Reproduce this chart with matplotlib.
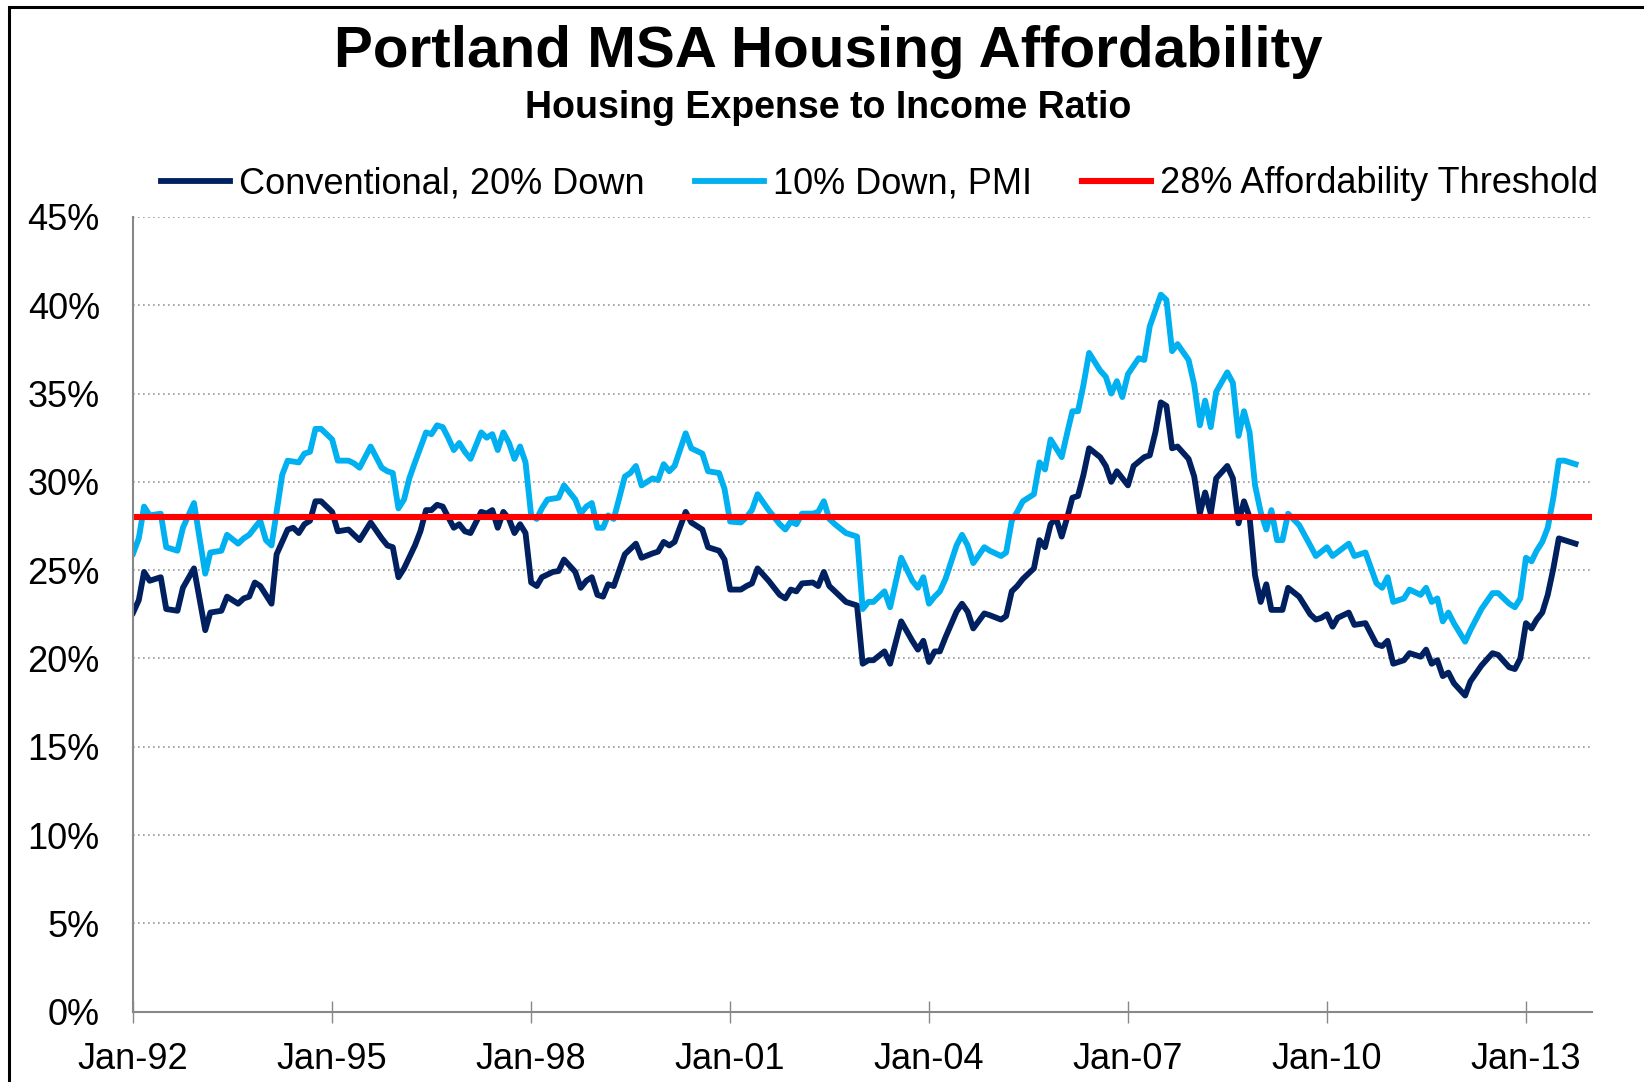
import numpy as np
import matplotlib
matplotlib.use("Agg")
import matplotlib.pyplot as plt
import matplotlib.dates as mdates
from matplotlib.patches import Rectangle

# months counted from Jan-1992, values in percent
conv_months = [0, 1, 2, 3, 5, 6, 8, 9, 11, 13, 14, 16, 17, 19, 20, 21, 22, 23, 25, 26,
               28, 29, 30, 31, 32, 33, 34, 36, 37, 39, 40, 41, 43, 45, 46, 47, 48, 49, 51, 52,
               53, 54, 55, 56, 57, 58, 59, 60, 61, 63, 64, 65, 66, 67, 68, 69, 70, 71, 72, 73,
               74, 76, 77, 78, 80, 81, 82, 83, 84, 85, 86, 87, 89, 91, 92, 94, 95, 96, 97, 98,
               100, 101, 103, 104, 106, 107, 108, 110, 111, 112, 113, 115, 117, 118, 119, 120, 121, 123, 124, 125,
               126, 127, 129, 130, 131, 132, 133, 134, 136, 137, 139, 141, 142, 143, 144, 145, 146, 147, 149, 150,
               151, 152, 154, 155, 157, 158, 159, 160, 161, 163, 164, 165, 166, 167, 168, 169, 170, 171, 172, 173,
               175, 176, 177, 178, 180, 181, 183, 184, 185, 186, 187, 188, 189, 191, 192, 193, 194, 195, 196, 198,
               199, 200, 201, 202, 203, 204, 205, 206, 208, 209, 211, 213, 214, 215, 216, 217, 218, 220, 221, 223,
               225, 226, 227, 228, 230, 231, 233, 234, 235, 236, 237, 238, 239, 241, 242, 244, 246, 247, 249, 250,
               251, 252, 253, 254, 255, 256, 257, 258, 259, 261]
conv_values = [22.6, 23.3, 24.9, 24.4, 24.6, 22.8, 22.7, 24.0, 25.1, 21.6, 22.6, 22.7, 23.5, 23.1, 23.4, 23.5, 24.3, 24.1, 23.1, 25.9,
               27.3, 27.4, 27.1, 27.6, 27.8, 28.9, 28.9, 28.3, 27.2, 27.3, 27.0, 26.7, 27.7, 26.8, 26.4, 26.3, 24.6, 25.1, 26.4, 27.2,
               28.4, 28.4, 28.7, 28.6, 28.0, 27.4, 27.6, 27.2, 27.1, 28.3, 28.2, 28.4, 27.4, 28.3, 27.9, 27.1, 27.6, 27.1, 24.3, 24.1,
               24.6, 24.9, 24.95, 25.6, 24.9, 24.0, 24.4, 24.6, 23.6, 23.5, 24.2, 24.1, 25.9, 26.5, 25.7, 25.95, 26.05, 26.6, 26.4, 26.6,
               28.3, 27.7, 27.3, 26.3, 26.1, 25.6, 23.9, 23.9, 24.1, 24.25, 25.1, 24.4, 23.6, 23.4, 23.9, 23.8, 24.25, 24.3, 24.1, 24.9,
               24.1, 23.8, 23.2, 23.1, 23.0, 19.7, 19.9, 19.9, 20.4, 19.7, 22.1, 21.0, 20.5, 21.0, 19.8, 20.4, 20.4, 21.2, 22.65, 23.1,
               22.65, 21.7, 22.55, 22.45, 22.2, 22.4, 23.8, 24.1, 24.5, 25.1, 26.7, 26.3, 27.6, 27.95, 26.9, 28.0, 29.1, 29.2, 30.4, 31.9,
               31.4, 30.9, 30.0, 30.6, 29.8, 30.9, 31.4, 31.5, 32.8, 34.5, 34.3, 31.9, 32.0, 31.3, 30.3, 28.2, 29.4, 28.2, 30.2, 30.9,
               30.2, 27.65, 28.9, 28.0, 24.7, 23.2, 24.2, 22.75, 22.75, 24.0, 23.5, 22.5, 22.2, 22.3, 22.5, 21.8, 22.3, 22.6, 21.9, 22.0,
               20.8, 20.7, 21.0, 19.7, 19.9, 20.3, 20.1, 20.5, 19.7, 19.9, 19.0, 19.2, 18.6, 17.9, 18.7, 19.6, 20.3, 20.2, 19.5, 19.4,
               20.0, 22.0, 21.7, 22.2, 22.6, 23.6, 25.1, 26.8, 26.7, 26.5]

pmi_months = [0, 1, 2, 3, 5, 6, 8, 9, 11, 13, 14, 16, 17, 19, 20, 21, 23, 24, 25, 27,
              28, 30, 31, 32, 33, 34, 36, 37, 39, 40, 41, 43, 45, 46, 47, 48, 49, 50, 51, 53,
              54, 55, 56, 57, 58, 59, 60, 61, 63, 64, 65, 66, 67, 68, 69, 70, 71, 72, 73, 74,
              75, 77, 78, 80, 81, 82, 83, 84, 85, 86, 87, 89, 90, 91, 92, 94, 95, 96, 97, 98,
              100, 101, 103, 104, 106, 107, 108, 110, 111, 112, 113, 115, 117, 118, 119, 120, 121, 123, 124, 125,
              126, 127, 129, 130, 131, 132, 133, 134, 136, 137, 139, 141, 142, 143, 144, 145, 146, 147, 149, 150,
              151, 152, 154, 155, 157, 158, 159, 160, 161, 163, 164, 165, 166, 168, 169, 170, 171, 172, 173, 175,
              176, 177, 178, 179, 180, 182, 183, 184, 186, 187, 188, 189, 191, 192, 193, 194, 195, 196, 198, 199,
              200, 201, 202, 203, 204, 205, 206, 207, 208, 209, 211, 213, 214, 216, 217, 220, 221, 223, 225, 226,
              227, 228, 230, 231, 233, 234, 235, 236, 237, 238, 239, 241, 242, 244, 246, 247, 249, 250, 251, 252,
              253, 254, 255, 256, 257, 258, 259, 261]
pmi_values = [25.95, 26.8, 28.6, 28.1, 28.2, 26.3, 26.1, 27.4, 28.8, 24.8, 26.0, 26.1, 27.0, 26.5, 26.8, 27.0, 27.8, 26.7, 26.4, 30.4,
              31.2, 31.1, 31.6, 31.7, 33.0, 33.0, 32.4, 31.2, 31.2, 31.05, 30.8, 32.0, 30.8, 30.6, 30.5, 28.5, 29.0, 30.2, 31.1, 32.8,
              32.7, 33.2, 33.1, 32.5, 31.8, 32.2, 31.7, 31.3, 32.8, 32.5, 32.7, 31.8, 32.8, 32.2, 31.3, 32.0, 31.1, 28.1, 27.9, 28.5,
              29.0, 29.1, 29.8, 29.0, 28.2, 28.6, 28.8, 27.4, 27.4, 28.1, 27.9, 30.3, 30.5, 30.9, 29.8, 30.2, 30.1, 31.0, 30.6, 30.9,
              32.75, 31.9, 31.6, 30.6, 30.5, 29.6, 27.75, 27.7, 28.0, 28.4, 29.3, 28.4, 27.6, 27.3, 27.75, 27.6, 28.2, 28.2, 28.3, 28.9,
              27.9, 27.6, 27.1, 27.0, 26.9, 22.8, 23.2, 23.2, 23.8, 22.9, 25.7, 24.4, 24.0, 24.6, 23.1, 23.5, 23.8, 24.5, 26.4, 27.0,
              26.4, 25.4, 26.3, 26.1, 25.8, 26.0, 27.8, 28.3, 28.9, 29.3, 31.1, 30.7, 32.4, 31.4, 32.8, 34.0, 34.0, 35.5, 37.3, 36.3,
              35.95, 35.0, 35.7, 34.8, 36.1, 37.0, 36.9, 38.8, 40.6, 40.3, 37.4, 37.8, 36.9, 35.5, 33.2, 34.6, 33.1, 35.1, 36.2, 35.6,
              32.6, 34.0, 32.8, 29.8, 28.3, 27.3, 28.4, 26.7, 26.7, 28.2, 27.55, 26.4, 25.8, 26.3, 25.8, 26.5, 25.8, 26.0, 24.25, 24.0,
              24.6, 23.2, 23.4, 23.9, 23.6, 24.0, 23.2, 23.4, 22.1, 22.6, 22.0, 20.95, 21.6, 22.8, 23.7, 23.7, 23.1, 22.9, 23.4, 25.7,
              25.5, 26.1, 26.6, 27.4, 29.1, 31.2, 31.2, 31.0]

threshold = 28.0
tick_years = [1992, 1995, 1998, 2001, 2004, 2007, 2010, 2013]
labels = ["Conventional, 20% Down", "10% Down, PMI", "28% Affordability Threshold"]

plt.rcParams["font.family"] = ["Liberation Sans", "DejaVu Sans"]

start = np.datetime64("1992-01", "M")
conv_dates = (start + np.array(conv_months)).astype("datetime64[D]")
pmi_dates = (start + np.array(pmi_months)).astype("datetime64[D]")

fig = plt.figure(figsize=(16.44, 10.82), dpi=100)
ax = fig.add_axes([0.081, 0.0650, 0.8875, 0.7345])

ax.plot(conv_dates, conv_values, color="#002060", lw=4.2, label=labels[0], solid_joinstyle="round")
ax.plot(pmi_dates, pmi_values, color="#00B0F0", lw=4.2, label=labels[1], solid_joinstyle="round")
ax.axhline(threshold, color="#FF0000", lw=4.4, label=labels[2])

ax.set_ylim(0, 45)
ax.set_yticks(np.arange(0, 46, 5))
ax.yaxis.set_major_formatter(plt.FuncFormatter(lambda v, p: f"{v:.0f}%"))
ax.set_xlim(np.datetime64("1992-01-01"), np.datetime64("2014-01-01"))
ax.set_xticks([np.datetime64(f"{y}-01-01") for y in tick_years])
ax.xaxis.set_major_formatter(mdates.DateFormatter("%b-%y"))

ax.grid(axis="y", color="#999999", linestyle=(0, (1, 2)), lw=1.2)
ax.set_axisbelow(True)
for s in ["top", "right"]:
    ax.spines[s].set_visible(False)
for s in ["left", "bottom"]:
    ax.spines[s].set_color("#888888")
    ax.spines[s].set_linewidth(1.5)
ax.tick_params(axis="y", length=0, pad=24, labelsize=26)
ax.tick_params(axis="x", direction="inout", length=16, width=1, color="#888888", pad=14, labelsize=26)

fig.text(0.504, 0.952, "Portland MSA Housing Affordability", ha="center", va="center",
         fontsize=42, fontweight="bold")
fig.text(0.504, 0.900, "Housing Expense to Income Ratio", ha="center", va="center",
         fontsize=27, fontweight="bold")
fig.legend(loc="center", bbox_to_anchor=(0.535, 0.830), ncol=3, frameon=False,
           fontsize=26, handlelength=1.9, handletextpad=0.25, columnspacing=1.4)

# chart frame: only the top and left edges fall inside the picture
fig.add_artist(Rectangle((0.0055, -0.1), 1.2, 1.0935, transform=fig.transFigure,
                         fill=False, edgecolor="black", lw=2.2))

fig.savefig("out.png", dpi=100)
